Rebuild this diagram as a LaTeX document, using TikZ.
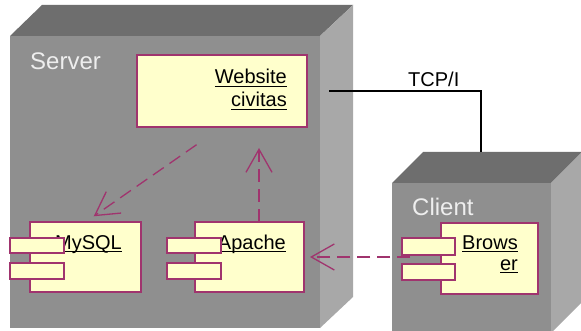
\documentclass[tikz,border=0pt]{standalone}
\usepackage{fontspec}
\setmainfont{Liberation Sans}
\usetikzlibrary{arrows.meta}
\definecolor{frontc}{RGB}{143,143,143}
\definecolor{topc}{RGB}{110,110,110}
\definecolor{sidec}{RGB}{168,168,168}
\definecolor{compfill}{RGB}{255,255,204}
\definecolor{compline}{RGB}{160,52,110}
\definecolor{nodetext}{RGB}{238,238,238}
\newsavebox\ulbox
\newcommand\ulin[1]{\sbox\ulbox{#1}\rlap{\rule[-3pt]{\wd\ulbox}{1.4pt}}\usebox\ulbox}
\tikzset{
  face/.style={fill=frontc, draw=none, inner sep=0pt, outer sep=0pt, anchor=north west},
  comp/.style={fill=compfill, draw=compline, line width=1.4pt, inner sep=0pt, outer sep=0pt, anchor=north west},
  port/.style={fill=compfill, draw=compline, line width=1.4pt, inner sep=0pt, outer sep=0pt, anchor=north west, minimum width=54pt},
  txt/.style={font=\fontsize{20}{23}\selectfont, inner sep=0pt, anchor=base east},
  nodelabel/.style={font=\fontsize{24}{28}\selectfont, text=nodetext, inner sep=0pt, anchor=base west},
  dep/.style={draw=compline, line width=1.3pt, dash pattern=on 13pt off 7pt,
    -{Straight Barb[length=23pt,width=26pt]}},
  tcp/.style={draw=black, line width=1.4pt}
}
\begin{document}
\begin{tikzpicture}[x=1pt,y=-1pt]
\useasboundingbox (0,0) rectangle (581,331);
\fill[white] (0,0) rectangle (581,331);
% Server node (3D box)
\node[face, minimum width=310pt, minimum height=292pt] (server) at (10,36) {};
\fill[topc] (server.north west) -- ++(32,-31) -- ++(311,0) -- (server.north east) -- cycle;
\fill[sidec] (server.north east) -- ++(33,-31) -- ++(0,292) -- (server.south east) -- cycle;
\node[nodelabel] (serverlbl) at (30,70) {Server};
% Client node (3D box)
\node[face, minimum width=159pt, minimum height=150pt] (client) at (392,183) {};
\fill[topc] (client.north west) -- ++(31,-31) -- ++(159,0) -- (client.north east) -- cycle;
\fill[sidec] (client.north east) -- ++(31,-31) -- ++(0,150) -- (client.south east) -- cycle;
\node[nodelabel] (clientlbl) at (412,216) {Client};
% TCP connection
\coordinate (tcpa) at (329,91);
\coordinate (tcpb) at (481,152);
\draw[tcp] (tcpa) -| (tcpb);
\node[font=\fontsize{20}{23}\selectfont, inner sep=0pt, anchor=base west] (tcplbl) at (408,87) {TCP/I};
% Website artifact
\node[comp, minimum width=170pt, minimum height=72pt] (website) at (137,55) {};
\node[txt] (webt1) at (287,84) {\ulin{Website}};
\node[txt] (webt2) at (287,107) {\ulin{civitas}};
% MySQL component
\node[comp, minimum width=111pt, minimum height=70pt] (mysql) at (30,222) {};
\node[txt] (mysqlt) at (122,249) {\ulin{MySQL}};
\node[port, minimum height=15pt] (mysqlp1) at (10,238) {};
\node[port, minimum height=16pt] (mysqlp2) at (10,263) {};
% Apache component
\node[comp, minimum width=109pt, minimum height=70pt] (apache) at (195,222) {};
\node[txt] (apachet) at (286,249) {\ulin{Apache}};
\node[port, minimum height=15pt] (apachep1) at (167,238) {};
\node[port, minimum height=16pt] (apachep2) at (167,263) {};
% Browser component
\node[comp, minimum width=97pt, minimum height=71pt] (browser) at (441,223) {};
\node[txt] (brt1) at (518,249) {\ulin{Brows}};
\node[txt] (brt2) at (518,270) {\ulin{er}};
\node[port, minimum width=53pt, minimum height=17pt] (browserp1) at (402,238) {};
\node[port, minimum width=53pt, minimum height=16pt] (browserp2) at (402,264) {};
% Dependencies
\draw[dep, shorten <=31pt, shorten >=10pt] (website.south) -- (mysql.north);
\coordinate (apin) at ([xshift=9.5pt]apache.north);
\draw[dep, shorten >=21pt] (apin) -- (apin |- website.south);
\draw[dep, shorten <=31pt, shorten >=6pt] (browser.west |- apache.east) -- (apache.east);
\end{tikzpicture}
\end{document}
